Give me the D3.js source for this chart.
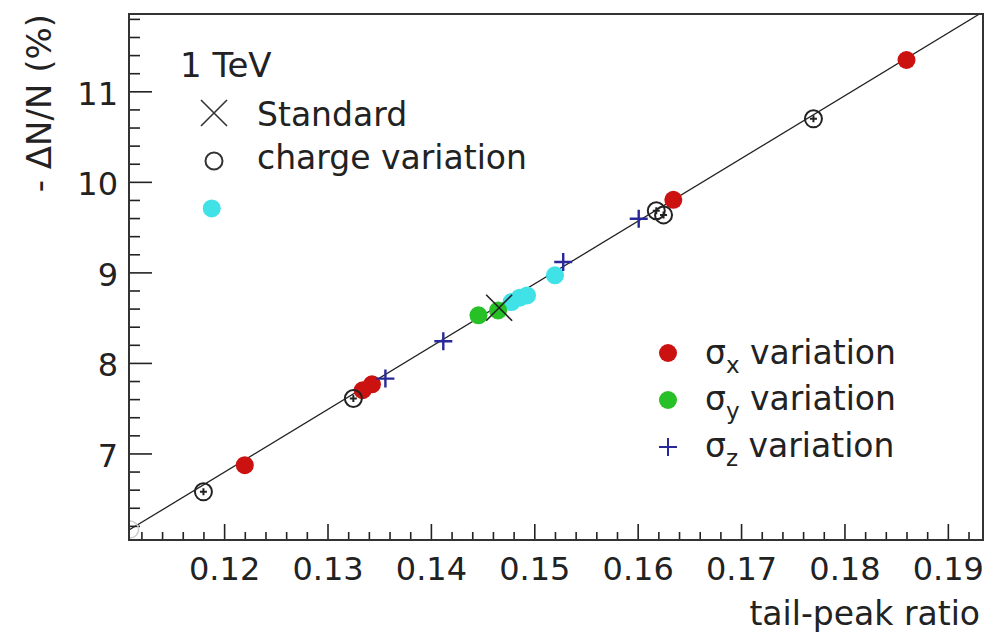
<!DOCTYPE html>
<html>
<head>
<meta charset="utf-8">
<script src="https://cdn.jsdelivr.net/npm/d3@7"></script>
<style>
	body { margin: 0; background: #fff; }
	text { font-family: 'DejaVu Sans', sans-serif; fill: #222; }
</style>
</head>
<body>
<div id="chart"></div>
<script>
// axis ranges and ticks
const xRange = [ 0.1108, 0.1934 ];
const yRange = [ 6.044, 11.854 ];
const xTicks = [ 0.12, 0.13, 0.14, 0.15, 0.16, 0.17, 0.18, 0.19 ];
const yTicks = [ 7, 8, 9, 10, 11 ];

// fit line end points
const fitLine = [ { x: 0.1108, y: 6.154 }, { x: 0.1931, y: 11.857 } ];

// data points
const standardPts = [ { x: 0.1466, y: 8.61 } ];
const chargePts = [
	{ x: 0.118, y: 6.576 },
	{ x: 0.1325, y: 7.607 },
	{ x: 0.1618, y: 9.68 },
	{ x: 0.1625, y: 9.635 },
	{ x: 0.177, y: 10.696 }
];
// faint marker sitting on the frame corner
const edgePts = [ { x: 0.1109, y: 6.16 } ];
const sigmaXPts = [
	{ x: 0.122, y: 6.871 },
	{ x: 0.1334, y: 7.698 },
	{ x: 0.1343, y: 7.764 },
	{ x: 0.16345, y: 9.802 },
	{ x: 0.186, y: 11.346 }
];
const sigmaYPts = [ { x: 0.1446, y: 8.526 }, { x: 0.1465, y: 8.58 } ];
const sigmaZPts = [
	{ x: 0.1356, y: 7.827 },
	{ x: 0.1412, y: 8.24 },
	{ x: 0.1528, y: 9.114 },
	{ x: 0.1601, y: 9.592 }
];
const otherPts = [
	{ x: 0.1478, y: 8.672 },
	{ x: 0.1486, y: 8.721 },
	{ x: 0.1493, y: 8.746 },
	{ x: 0.152, y: 8.968 },
	{ x: 0.1188, y: 9.706 }
];

const dims = {
	width  : 1000,
	height : 635,
	margin : { top: 14, right: 17, bottom: 95, left: 129 }
};
dims.boundedWidth = dims.width - dims.margin.left - dims.margin.right;
dims.boundedHeight = dims.height - dims.margin.top - dims.margin.bottom;

const colors = {
	red   : '#cc1111',
	green : '#27c027',
	blue  : '#28289a',
	cyan  : '#40e2e8'
};

const svg = d3
	.select('#chart')
	.append('svg')
	.attr('width', dims.width)
	.attr('height', dims.height);

const x = d3.scaleLinear().domain(xRange).range([ 0, dims.boundedWidth ]);
const y = d3.scaleLinear().domain(yRange).range([ dims.boundedHeight, 0 ]);

const bounds = svg.append('g').attr('transform', `translate(${dims.margin.left}, ${dims.margin.top})`);

svg
	.append('defs')
	.append('clipPath')
	.attr('id', 'plot-clip')
	.append('rect')
	.attr('width', dims.boundedWidth)
	.attr('height', dims.boundedHeight);

// minor ticks
const xMinor = d3.range(0.112, xRange[1], 0.002).filter((v) => Math.abs(Math.round(v * 100) - v * 100) > 1e-6);
const yMinor = d3.range(6.2, yRange[1], 0.2).filter((v) => Math.abs(Math.round(v) - v) > 1e-6);

bounds
	.append('g')
	.attr('transform', `translate(0, ${dims.boundedHeight})`)
	.call(d3.axisBottom(x).tickValues(xMinor).tickFormat('').tickSize(-8))
	.call((g) => g.select('.domain').remove());

const xAxis = bounds
	.append('g')
	.attr('transform', `translate(0, ${dims.boundedHeight})`)
	.call(d3.axisBottom(x).tickValues(xTicks).tickFormat(d3.format('.2f')).tickSize(-16));
xAxis.select('.domain').remove();
xAxis.selectAll('text').attr('y', 40).attr('dy', null).attr('font-size', 32).style('font-family', 'DejaVu Sans');

bounds
	.append('g')
	.call(d3.axisLeft(y).tickValues(yMinor).tickFormat('').tickSize(-11))
	.call((g) => g.select('.domain').remove());

const yAxis = bounds
	.append('g')
	.call(d3.axisLeft(y).tickValues(yTicks).tickFormat(d3.format('d')).tickSize(-23).tickPadding(11));
yAxis.select('.domain').remove();
yAxis.selectAll('text').attr('dy', '0.4em').attr('font-size', 32).style('font-family', 'DejaVu Sans');

bounds.selectAll('.tick line').attr('stroke', '#222').attr('stroke-width', 1.6);

// fit line
const plot = bounds.append('g').attr('clip-path', 'url(#plot-clip)');
plot
	.append('path')
	.datum(fitLine)
	.attr('d', d3.line().x((d) => x(d.x)).y((d) => y(d.y)))
	.attr('fill', 'none')
	.attr('stroke', '#222')
	.attr('stroke-width', 1.3);

// marker helpers
function dots(g, data, color) {
	g
		.selectAll(null)
		.data(data)
		.enter()
		.append('circle')
		.attr('cx', (d) => x(d.x))
		.attr('cy', (d) => y(d.y))
		.attr('r', 9)
		.attr('fill', color);
}
function plusPath(size) {
	return `M${-size},0H${size}M0,${-size}V${size}`;
}
function crossPath(size) {
	return `M${-size},${-size}L${size},${size}M${-size},${size}L${size},${-size}`;
}

dots(plot, otherPts, colors.cyan);
dots(plot, sigmaYPts, colors.green);
dots(plot, sigmaXPts, colors.red);

plot
	.selectAll('.edge')
	.data(edgePts)
	.enter()
	.append('circle')
	.attr('class', 'edge')
	.attr('cx', (d) => x(d.x))
	.attr('cy', (d) => y(d.y))
	.attr('r', 8.5)
	.attr('fill', 'none')
	.attr('stroke', '#ccc')
	.attr('stroke-width', 1.5);

const charge = plot
	.selectAll('.charge')
	.data(chargePts)
	.enter()
	.append('g')
	.attr('class', 'charge')
	.attr('transform', (d) => `translate(${x(d.x)}, ${y(d.y)})`);
charge.append('circle').attr('r', 8.5).attr('fill', 'none').attr('stroke', '#222').attr('stroke-width', 2);
charge.append('path').attr('d', plusPath(3.5)).attr('stroke', '#222').attr('stroke-width', 2);

plot
	.selectAll('.sigz')
	.data(sigmaZPts)
	.enter()
	.append('path')
	.attr('class', 'sigz')
	.attr('transform', (d) => `translate(${x(d.x)}, ${y(d.y)})`)
	.attr('d', plusPath(9))
	.attr('stroke', colors.blue)
	.attr('stroke-width', 2.4);

plot
	.selectAll('.std')
	.data(standardPts)
	.enter()
	.append('path')
	.attr('class', 'std')
	.attr('transform', (d) => `translate(${x(d.x)}, ${y(d.y)})`)
	.attr('d', crossPath(13))
	.attr('stroke', '#222')
	.attr('stroke-width', 1.6);

// frame
bounds
	.append('rect')
	.attr('width', dims.boundedWidth)
	.attr('height', dims.boundedHeight)
	.attr('fill', 'none')
	.attr('stroke', '#333')
	.attr('stroke-width', 2);

// axis titles
svg
	.append('text')
	.attr('x', 980)
	.attr('y', 625)
	.attr('text-anchor', 'end')
	.attr('font-size', 33)
	.text('tail-peak ratio');

svg
	.append('text')
	.attr('transform', 'translate(51, 14) rotate(-90)')
	.attr('text-anchor', 'end')
	.attr('font-size', 34)
	.text('- \u0394N/N (%)');

// top-left legend
svg.append('text').attr('x', 180).attr('y', 77).attr('font-size', 34).text('1 TeV');

svg
	.append('path')
	.attr('transform', 'translate(214, 113)')
	.attr('d', crossPath(13))
	.attr('stroke', '#333')
	.attr('stroke-width', 1.6);
svg.append('text').attr('x', 257).attr('y', 126).attr('font-size', 33).text('Standard');

svg
	.append('circle')
	.attr('cx', 214)
	.attr('cy', 161)
	.attr('r', 8.5)
	.attr('fill', 'none')
	.attr('stroke', '#333')
	.attr('stroke-width', 2);
svg.append('text').attr('x', 257).attr('y', 169).attr('font-size', 33).text('charge variation');

// bottom-right legend
const legendItems = [
	{ sub: 'x', color: colors.red, kind: 'dot', cy: 353, base: 364 },
	{ sub: 'y', color: colors.green, kind: 'dot', cy: 400, base: 410 },
	{ sub: 'z', color: colors.blue, kind: 'plus', cy: 447, base: 457 }
];

legendItems.forEach((item) => {
	if (item.kind === 'dot') {
		svg.append('circle').attr('cx', 668).attr('cy', item.cy).attr('r', 9).attr('fill', item.color);
	} else {
		svg
			.append('path')
			.attr('transform', `translate(668, ${item.cy})`)
			.attr('d', plusPath(9))
			.attr('stroke', item.color)
			.attr('stroke-width', 2);
	}
	const t = svg.append('text').attr('x', 705).attr('y', item.base).attr('font-size', 33);
	t.append('tspan').text('\u03c3');
	t.append('tspan').attr('dy', 9).attr('font-size', 23).text(item.sub);
	t.append('tspan').attr('dy', -9).text(' variation');
});
</script>
</body>
</html>
